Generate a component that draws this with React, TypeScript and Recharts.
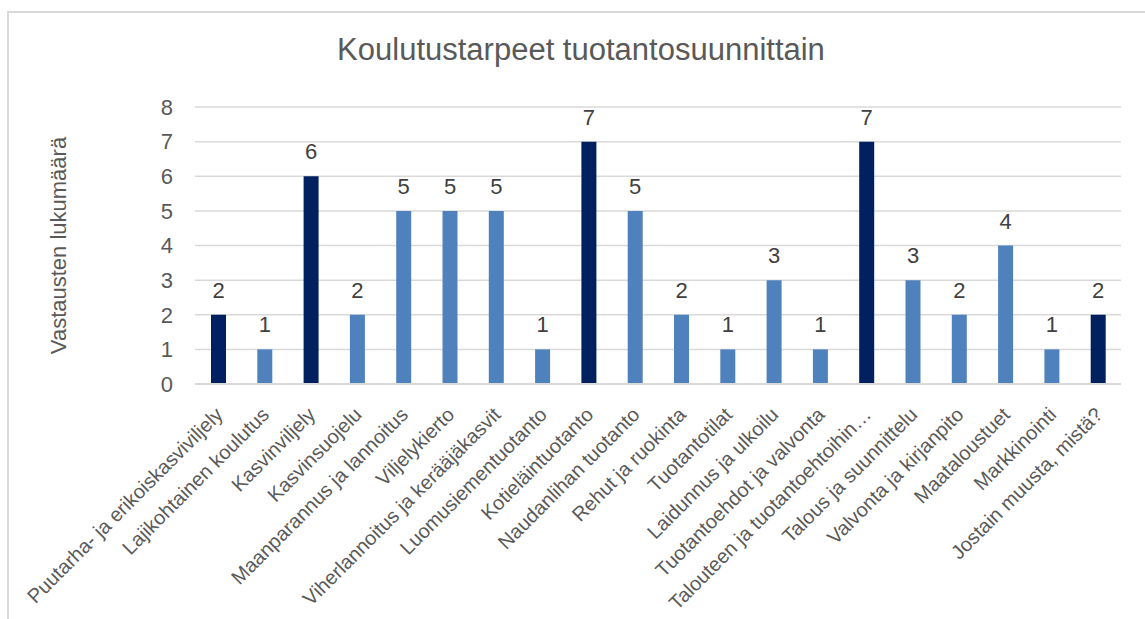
import { BarChart, Bar, XAxis, YAxis, CartesianGrid, Cell, LabelList, Label } from "recharts";

const categories = [
  "Puutarha- ja erikoiskasviviljely",
  "Lajikohtainen koulutus",
  "Kasvinviljely",
  "Kasvinsuojelu",
  "Maanparannus ja lannoitus",
  "Viljelykierto",
  "Viherlannoitus ja kerääjäkasvit",
  "Luomusiementuotanto",
  "Kotieläintuotanto",
  "Naudanlihan tuotanto",
  "Rehut ja ruokinta",
  "Tuotantotilat",
  "Laidunnus ja ulkoilu",
  "Tuotantoehdot ja valvonta",
  "Talouteen ja tuotantoehtoihin…",
  "Talous ja suunnittelu",
  "Valvonta ja kirjanpito",
  "Maataloustuet",
  "Markkinointi",
  "Jostain muusta, mistä?",
];
const counts = [2, 1, 6, 2, 5, 5, 5, 1, 7, 5, 2, 1, 3, 1, 7, 3, 2, 4, 1, 2];
// main headings are drawn in the dark colour
const isHeading = [true, false, true, false, false, false, false, false, true, false, false, false, false, false, true, false, false, false, false, true];
const yTicks = [0, 1, 2, 3, 4, 5, 6, 7, 8];

const DARK = "#002060";
const LIGHT = "#4F81BD";
const GRID = "#D9D9D9";
const TEXT = "#595959";
const FONT = "'Liberation Sans', Arial, sans-serif";

const data = categories.map((name, i) => ({ name, value: counts[i], heading: isHeading[i] }));

const XTick = ({ x, y, payload }: any) => (
  <g transform={`translate(${x + 1},${y + 19})`}>
    <text textAnchor="end" transform="rotate(-45)" dy="0.35em" fill={TEXT} fontSize={20} fontFamily={FONT}>
      {payload.value}
    </text>
  </g>
);

export default function App() {
  return (
    <div style={{ position: "absolute", left: 0, top: 0, width: 1145, height: 619, overflow: "hidden", background: "#fff", fontFamily: FONT }}>
      <div style={{ position: "absolute", left: 7, top: 11, width: 1200, height: 700, border: `2px solid ${GRID}` }} />
      <BarChart width={1145} height={619} data={data} margin={{ top: 107, right: 24, bottom: 0, left: 0 }} barSize={15}>
        <CartesianGrid vertical={false} stroke={GRID} strokeWidth={1.5} />
        <XAxis dataKey="name" interval={0} height={235} tick={<XTick />} tickLine={false} axisLine={{ stroke: GRID, strokeWidth: 2 }} />
        <YAxis
          width={195}
          domain={[0, 8]}
          ticks={yTicks}
          interval={0}
          axisLine={false}
          tickLine={false}
          tickSize={0}
          tickMargin={22}
          tick={{ fill: TEXT, fontSize: 22, fontFamily: FONT }}
        >
          <Label
            content={() => (
              <text x={58} y={245.5} transform="rotate(-90 58 245.5)" textAnchor="middle" dominantBaseline="central" fill={TEXT} fontSize={22} fontFamily={FONT}>
                Vastausten lukumäärä
              </text>
            )}
          />
        </YAxis>
        <Bar dataKey="value" isAnimationActive={false}>
          {data.map((d, i) => (
            <Cell key={i} fill={d.heading ? DARK : LIGHT} />
          ))}
          <LabelList dataKey="value" position="top" offset={17} fill="#404040" fontSize={22} fontFamily={FONT} />
        </Bar>
      </BarChart>
      <svg style={{ position: "absolute", left: 0, top: 0, pointerEvents: "none" }} width={1145} height={100}>
        <text x={581} y={60} textAnchor="middle" fill={TEXT} fontSize={31} fontFamily={FONT}>
          Koulutustarpeet tuotantosuunnittain
        </text>
      </svg>
    </div>
  );
}
